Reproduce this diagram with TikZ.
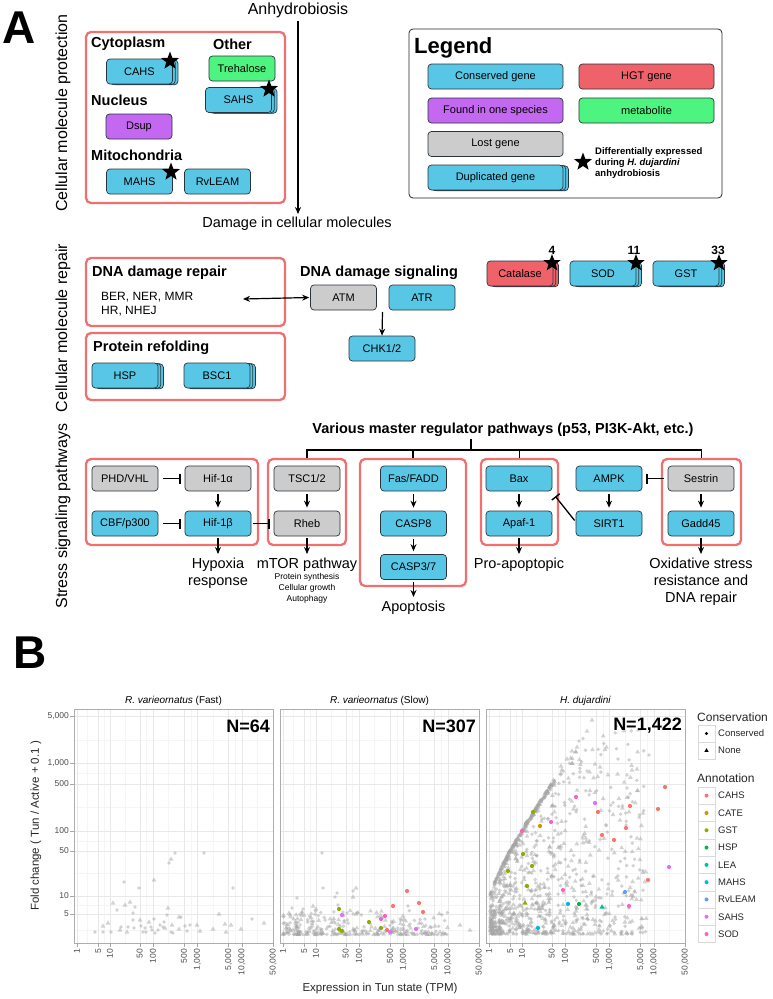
\documentclass[tikz,border=0pt]{standalone}
\usepackage{fontspec}
\setmainfont{Liberation Sans}
\usetikzlibrary{arrows.meta,shapes.geometric,fit,calc}
\definecolor{cblue}{RGB}{88,199,230}
\definecolor{cgray}{RGB}{204,204,204}
\definecolor{cpurp}{RGB}{196,104,242}
\definecolor{cgreen}{RGB}{78,244,128}
\definecolor{cred}{RGB}{240,98,106}
\definecolor{gred}{RGB}{240,112,112}
\definecolor{bline}{RGB}{40,52,62}
\definecolor{aCAHS}{HTML}{F8766D}
\definecolor{aCATE}{HTML}{D39200}
\definecolor{aGST}{HTML}{93AA00}
\definecolor{aHSP}{HTML}{00BA38}
\definecolor{aLEA}{HTML}{00C19F}
\definecolor{aMAHS}{HTML}{00B9E3}
\definecolor{aRvLEAM}{HTML}{619CFF}
\definecolor{aSAHS}{HTML}{DB72FB}
\definecolor{aSOD}{HTML}{FF61C3}
\definecolor{ptgray}{RGB}{165,165,165}
\newcommand\fs[2]{\fontsize{#1}{#2}\selectfont}
\newcommand\gC[2]{\fill (#1,#2) circle[radius=1.9pt];}
\newcommand\gT[2]{\fill (#1,#2) ++(0,-2.6) -- ++(2.4,4.1) -- ++(-4.8,0) -- cycle;}
\newcommand\cC[3]{\fill[#1] (#2,#3) circle[radius=2.1pt];}
\newcommand\cT[3]{\fill[#1] (#2,#3) ++(0,-2.8) -- ++(2.6,4.4) -- ++(-5.2,0) -- cycle;}
\newcommand\dupgene[5][]{%
  \node[gene,#4,#1] at ($(#3)+(5.4,0.8)$) {};
  \node[gene,#4,#1] at ($(#3)+(2.7,0.4)$) {};
  \node[gene,#4,#1] (#2) at (#3) {#5};}
\newcommand\plotpanel[2]{%
  \foreach \gx in {87.6,104.1,124.9,146.4,168.5,190.7,213.0,235.3,257.6}{\draw[gminor] (\gx+#1,709) -- (\gx+#1,943);}
  \foreach \gy in {930,905,873,841,807,773,740}{\draw[gminor] (74+#1,\gy) -- (273+#1,\gy);}
  \foreach \gx in {77.0,98.3,110.0,139.8,153.0,184.0,197.4,228.6,242.0}{\draw[gmajor] (\gx+#1,709) -- (\gx+#1,943);}
  \foreach \gy in {914,896,851,831,784,763,716}{\draw[gmajor] (74+#1,\gy) -- (273+#1,\gy);}
  \draw[pborder] (74+#1,709) rectangle (273+#1,943);
  \foreach \gx/\gl [count=\ci] in {77.0/1,98.3/5,110.0/10,139.8/50,153.0/100,184.0/500,197.4/{1,000},228.6/{5,000},242.0/{10,000},273.2/{50,000}}{%
    \draw[tickm] (\gx+#1,943) -- (\gx+#1,947);
    \node[tickl, rotate=90, anchor=east] (xt#2-\ci) at (\gx+#1,948.5) {\gl};}
}
\begin{document}
\begin{tikzpicture}[x=1pt,y=-1pt,
  gene/.style={draw=bline, line width=0.7pt, rounded corners=3.5pt, minimum width=66pt, minimum height=25pt, inner sep=0pt, font=\fs{11}{13}, text=black},
  cons/.style={fill=cblue}, lost/.style={fill=cgray}, purp/.style={fill=cpurp}, meta/.style={fill=cgreen}, hgt/.style={fill=cred},
  grp/.style={draw=gred, line width=2.3pt, rounded corners=5pt, inner sep=0pt},
  hdr/.style={font=\bfseries\fs{14.5}{17}, inner sep=0pt, anchor=west},
  sec/.style={font=\fs{16}{18}, inner sep=0pt, rotate=90},
  dstar/.style={star, star points=5, star point ratio=2.4, fill=black, draw=none, minimum size=19pt, inner sep=0pt},
  arr/.style={line width=1.2pt, -{Stealth[length=7pt,width=6pt]}},
  darr/.style={line width=1.2pt, {Stealth[length=7pt,width=6pt]}-{Stealth[length=7pt,width=6pt]}},
  inh/.style={line width=1.3pt, -{Bar[width=10pt,line width=1.4pt]}},
  brk/.style={line width=1.3pt},
  outl/.style={font=\fs{14.5}{17}, align=center, inner sep=1pt, anchor=north},
  gmajor/.style={draw=black!9, line width=0.5pt},
  gminor/.style={draw=black!4, line width=0.35pt},
  pborder/.style={draw=black!32, line width=0.7pt},
  tickm/.style={draw=black!35, line width=0.5pt},
  tickl/.style={font=\fs{8.5}{10}, text=black!70, inner sep=0.5pt},
  keyb/.style={draw=black!15, line width=0.5pt, fill=white},
  legl/.style={font=\fs{9.5}{11}, anchor=west, inner sep=0pt, text=black!85},
  nlab/.style={font=\bfseries\fs{18}{20}, anchor=east, inner sep=0pt}
]
\useasboundingbox (0,0) rectangle (772,999);

% ---------------- Panel A ----------------
\node[font=\bfseries\fs{46}{50}, inner sep=0pt] (lblA) at (19,28) {A};
\node[sec] (secP) at (63,113) {Cellular molecule protection};
\node[sec] (secR) at (63,328) {Cellular molecule repair};
\node[sec] (secS) at (63,516) {Stress signaling pathways};

% protection
\node[grp, fit={(86,32) (285,203)}] (gProt) {};
\node[hdr] (hCyt) at (91,44) {Cytoplasm};
\node[hdr] (hOth) at (213,44) {Other};
\node[hdr] (hNuc) at (91,100) {Nucleus};
\node[hdr] (hMit) at (91,155) {Mitochondria};
\dupgene{CAHS}{139.5,71.5}{cons}{CAHS}
\node[gene,meta] (Tre) at (242,68.5) {Trehalose};
\dupgene{SAHS}{238.5,100}{cons}{SAHS}
\node[gene,purp] (Dsup) at (139,126.5) {Dsup};
\node[gene,cons] (MAHS) at (139.5,181.5) {MAHS};
\node[gene,cons] (RvLEAM) at (217.5,181.5) {RvLEAM};
\node[dstar] (st1) at (170,61) {};
\node[dstar] (st2) at (269,89) {};
\node[dstar] (st3) at (171,172) {};

\node[font=\fs{16}{18}, inner sep=1pt] (anh) at (298,10) {Anhydrobiosis};
\node[font=\fs{14.5}{17}, inner sep=1pt] (dmg) at (297,224) {Damage in cellular molecules};
\draw[arr, shorten <=2pt, shorten >=2pt] (anh.south) -- (anh.south |- dmg.north);

% legend
\node[draw=black!85, line width=0.8pt, rounded corners=4pt, fit={(409,29) (722,198)}, inner sep=0pt] (leg) {};
\node[font=\bfseries\fs{22}{24}, anchor=west, inner sep=0pt] (legT) at (414,48) {Legend};
\node[gene,cons,minimum width=135pt] (lCons) at (495.5,76.5) {Conserved gene};
\node[gene,hgt,minimum width=135pt] (lHGT) at (646.5,76.5) {HGT gene};
\node[gene,purp,minimum width=135pt] (lOne) at (495.5,110.5) {Found in one species};
\node[gene,meta,minimum width=135pt] (lMet) at (646.5,110.5) {metabolite};
\node[gene,lost,minimum width=135pt] (lLost) at (495.5,144) {Lost gene};
\dupgene[minimum width=135pt]{lDup}{495.5,177.5}{cons}{Duplicated gene}
\node[dstar] (lStar) at (583,162) {};
\node[anchor=west, align=left, font=\bfseries\fs{9.5}{11}, inner sep=0pt] (lStarT) at (595,163) {Differentially expressed\\during \textit{H. dujardini}\\anhydrobiosis};

% repair
\node[grp, fit={(86,258) (285,326)}] (gRep) {};
\node[hdr] (hDNA) at (92,273) {DNA damage repair};
\node[anchor=west, align=left, font=\fs{12}{14}, inner sep=0pt] (rep) at (101,304) {BER, NER, MMR\\HR, NHEJ};
\coordinate (repR) at (243,299);
\node[font=\bfseries\fs{14.5}{17}, inner sep=0pt] (hSig) at (379,273) {DNA damage signaling};
\node[gene,lost] (ATM) at (343.5,297.5) {ATM};
\node[gene,cons] (ATR) at (422,297.5) {ATR};
\node[gene,cons] (CHK) at (382,348.5) {CHK1/2};
\draw[darr] (repR) -- ([xshift=-1pt]ATM.west);
\coordinate (sig) at (382.5,312);
\draw[arr] (sig) -- (CHK.north);

\dupgene{Cat}{520,273.5}{hgt}{Catalase}
\dupgene{SOD}{603,273.5}{cons}{SOD}
\dupgene{GST}{686,273.5}{cons}{GST}
\node[dstar, minimum size=18pt] (st4) at (552,263) {};
\node[dstar, minimum size=18pt] (st5) at (636,263) {};
\node[dstar, minimum size=18pt] (st6) at (719,263) {};
\node[font=\bfseries\fs{12}{14}, inner sep=0pt] (n4) at (552,250.5) {4};
\node[font=\bfseries\fs{12}{14}, inner sep=0pt] (n11) at (634,250.5) {11};
\node[font=\bfseries\fs{12}{14}, inner sep=0pt] (n33) at (718,250.5) {33};

\node[grp, fit={(86,333) (285,400)}] (gFold) {};
\node[hdr] (hFold) at (93,348) {Protein refolding};
\dupgene{HSP}{125,375.5}{cons}{HSP}
\dupgene{BSC}{217,375.5}{cons}{BSC1}

% stress signaling
\node[font=\bfseries\fs{14.5}{17}, inner sep=0pt] (master) at (503,430) {Various master regulator pathways (p53, PI3K-Akt, etc.)};
\node[grp, fit={(86,459) (258,545)}] (gHyp) {};
\node[grp, fit={(268,459) (346,545)}] (gMTOR) {};
\node[grp, fit={(360,459) (466,586)}] (gApo) {};
\node[grp, fit={(481,459) (558,545)}] (gPro) {};
\node[grp, fit={(662,459) (741,545)}] (gSes) {};

\node[gene,lost] (PHD) at (125,478.5) {PHD/VHL};
\node[gene,lost] (Hif1a) at (218,478.5) {Hif-1α};
\node[gene,lost] (TSC) at (307,478.5) {TSC1/2};
\node[gene,cons] (Fas) at (413.5,478.5) {Fas/FADD};
\node[gene,cons] (Bax) at (519,478.5) {Bax};
\node[gene,cons] (AMPK) at (609,478.5) {AMPK};
\node[gene,lost] (Ses) at (701,478.5) {Sestrin};
\node[gene,cons] (CBF) at (125,523.5) {CBF/p300};
\node[gene,cons] (Hif1b) at (218,523.5) {Hif-1β};
\node[gene,lost] (Rheb) at (307,523.5) {Rheb};
\node[gene,cons] (CASP8) at (413.5,523.5) {CASP8};
\node[gene,cons] (Apaf) at (519,523.5) {Apaf-1};
\node[gene,cons] (SIRT) at (609,523.5) {SIRT1};
\node[gene,cons] (Gadd) at (701,523.5) {Gadd45};
\node[gene,cons] (CASP3) at (413.5,567) {CASP3/7};

\coordinate (bl) at (0,450);
\coordinate (stem) at (471,439);
\draw[brk] (gMTOR.north) -- (gMTOR.north |- bl) -- (gSes.north |- bl) -- (gSes.north);
\draw[brk] (gApo.north) -- (gApo.north |- bl);
\draw[brk] (gPro.north) -- (gPro.north |- bl);
\draw[brk] (stem) -- (stem |- bl);

\draw[inh, shorten <=5pt, shorten >=4pt] (PHD.east) -- (Hif1a.west);
\draw[inh, shorten <=5pt, shorten >=4pt] (CBF.east) -- (Hif1b.west);
\draw[inh, shorten <=2pt, shorten >=4pt] (Hif1b.east) -- (Rheb.west);
\draw[inh, shorten <=4pt, shorten >=4pt] (Ses.west) -- (AMPK.east);
\draw[inh] ($(SIRT.west)+(-1,-3)$) -- ($(Bax.south east)+(3,5)$);

\foreach \a/\b in {Hif1a/Hif1b, TSC/Rheb, Fas/CASP8, CASP8/CASP3, Bax/Apaf, AMPK/SIRT, Ses/Gadd}{
  \draw[arr, shorten <=3pt, shorten >=3pt] (\a.south) -- (\b.north);}

\node[outl] (oHyp) at (218,557) {Hypoxia\\response};
\node[outl] (oMTOR) at (307,557) {mTOR pathway};
\node[font=\fs{8.5}{11}, align=center, inner sep=0pt, anchor=north] (oMTORs) at (307,573.5) {Protein synthesis\\Cellular growth\\Autophagy};
\node[outl] (oApo) at (413.5,600) {Apoptosis};
\node[outl] (oPro) at (519,557) {Pro-apoptopic};
\node[outl] (oOx) at (701,557) {Oxidative stress\\resistance and\\DNA repair};
\draw[arr, shorten <=2pt, shorten >=3pt] (Hif1b.south) -- (oHyp.north);
\draw[arr, shorten <=2pt, shorten >=3pt] (Rheb.south) -- (oMTOR.north);
\draw[arr, shorten <=2pt, shorten >=3pt] (CASP3.south) -- (oApo.north);
\draw[arr, shorten <=2pt, shorten >=3pt] (Apaf.south) -- (oPro.north);
\draw[arr, shorten <=2pt, shorten >=3pt] (Gadd.south) -- (oOx.north);

% ---------------- Panel B ----------------
\node[font=\bfseries\fs{46}{50}, inner sep=0pt] (lblB) at (30,653) {B};
\plotpanel{0}{a}
\plotpanel{206}{b}
\plotpanel{412}{c}
\foreach \gy/\gl [count=\ci] in {914/5,896/10,851/50,831/100,784/500,763/{1,000},716/{5,000}}{
  \draw[tickm] (70,\gy) -- (74,\gy);
  \node[tickl, anchor=east] (yt\ci) at (69.5,\gy) {\gl};}
\node[font=\fs{10}{12}, inner sep=0pt] (strip1) at (173.5,701) {\textit{R. varieornatus} (Fast)};
\node[font=\fs{10}{12}, inner sep=0pt] (strip2) at (379.5,701) {\textit{R. varieornatus} (Slow)};
\node[font=\fs{10}{12}, inner sep=0pt] (strip3) at (585.5,701) {\textit{H. dujardini}};
\node[font=\fs{11.5}{13}, text=black!85, inner sep=0pt] (xtitle) at (380,989) {Expression in Tun state (TPM)};
\node[font=\fs{11.5}{13}, text=black!85, inner sep=0pt, rotate=90] (ytitle) at (36,826) {Fold change ( Tun / Active + 0.1 )};

\begin{scope}[fill=ptgray, fill opacity=0.5]
% panel 1
\foreach \x/\y in {95/932,103/932,111/932,117/910,121/927,124/882,128/927,133/913,133/920,134/928,135/907,139/888,141/926,143/932,145/928,146/932,151/927,152/930,154/919,155/933,163/927,164/922,167/915,169/863,171/932,173/933,175/853,181/917,187/931,190/925,204/853,233/888,252/919,158/930,160/925,185/926}{\gC{\x}{\y}}
\foreach \x/\y in {103/926,108/923,113/903,125/905,127/932,130/902,140/920,149/922,154/880,165/928,168/908,171/859,179/917,179/929,197/925,213/929,219/914,225/924,226/932,231/925,241/929,264/923,120/930,172/925,200/931}{\gT{\x}{\y}}
% panel 2
\foreach \x/\y in {292/908,297/898,303/909,322/853,323/888,335/897,337/893,338/905,353/891,343/912,347/913,408/906,425/919,418/928,410/924,400/919}{\gC{\x}{\y}}
\foreach \x/\y in {289/913,313/906,316/909,356/888,353/897,356/914,403/916,430/927,435/926,440/932,443/933,460/925,470/930}{\gT{\x}{\y}}
\pgfmathsetseed{7}
\foreach \i in {1,...,270}{%
  \pgfmathsetmacro\X{283+165*pow(rnd*0.998+0.001,1.25)}%
  \pgfmathsetmacro\Y{934.5-24*pow(rnd*0.998+0.001,2.3)}%
  \pgfmathtruncatemacro\sh{rnd<0.5}%
  \ifnum\sh=1 \gC{\X}{\Y}\else\gT{\X}{\Y}\fi}
% panel 3
\foreach \i in {1,...,850}{%
  \pgfmathsetmacro\ra{0.33+3.5*pow(rnd*0.998+0.001,1.5)}%
  \pgfmathsetmacro\lv{log10(pow(10,\ra)-1)}%
  \pgfmathsetmacro\bmax{min(1.0+\lv,3.62)}%
  \pgfmathsetmacro\bb{0.43+(\bmax-0.43)*pow(rnd*0.998+0.001,1.75)}%
  \pgfmathsetmacro\X{475.6+44.6*\ra}%
  \pgfmathsetmacro\Y{962.7-66.7*\bb}%
  \pgfmathtruncatemacro\sh{rnd<0.5}%
  \ifnum\sh=1 \gC{\X}{\Y}\else\gT{\X}{\Y}\fi}
\foreach \i in {1,...,220}{%
  \pgfmathsetmacro\ra{0.42+1.35*rnd}%
  \pgfmathsetmacro\lv{log10(pow(10,\ra)-1)}%
  \pgfmathsetmacro\bb{1.0+\lv-0.06*rnd}%
  \pgfmathsetmacro\X{475.6+44.6*\ra}%
  \pgfmathsetmacro\Y{962.7-66.7*\bb}%
  \pgfmathtruncatemacro\sh{rnd<0.5}%
  \ifnum\sh=1 \gC{\X}{\Y}\else\gT{\X}{\Y}\fi}
\foreach \x/\y in {579/741,618/759,649/755,627/775,587/771}{\gC{\x}{\y}}
\foreach \x/\y in {592/720,572/751,567/759,561/766,600/767,632/770,637/769}{\gT{\x}{\y}}
\end{scope}

% coloured points
\foreach \x/\y in {339/909,339/929,342/931,369/922,381/928,533/812,523/854,532/866,508/871,527/886}{\cC{aGST}{\x}{\y}}
\cT{aGST}{525}{903}
\foreach \x/\y in {342/915,416/929,390/932,595/803,669/867}{\cC{aSAHS}{\x}{\y}}
\foreach \x/\y in {381/919,385/916,576/797,551/822,522/831,563/890,629/906}{\cC{aSOD}{\x}{\y}}
\foreach \x/\y in {387/930,407/891,393/906,419/903,423/912,665/787,630/806,598/812,658/809,626/828,602/835,614/840,648/880}{\cC{aCAHS}{\x}{\y}}
\cC{aCATE}{540}{826}
\cC{aMAHS}{568}{904}
\cC{aMAHS}{538}{928}
\cC{aHSP}{579}{904}
\cT{aLEA}{602}{907}
\cC{aRvLEAM}{625}{892}

\node[nlab] (N1) at (270,726) {N=64};
\node[nlab] (N2) at (476,726) {N=307};
\node[nlab] (N3) at (682,726) {N=1,422};

% legend B
\node[font=\fs{12}{14}, anchor=west, inner sep=0pt, text=black!85] (conT) at (697,717) {Conservation};
\draw[keyb] (698,725) rectangle (715,742);
\draw[keyb] (698,742) rectangle (715,759);
\fill[black] (706.5,733.5) circle[radius=1.6pt];
\fill[black] (706.5,750.5) ++(0,-2.3) -- ++(2.1,3.6) -- ++(-4.2,0) -- cycle;
\node[legl] (conC) at (718,733.5) {Conserved};
\node[legl] (conN) at (718,750.5) {None};
\node[font=\fs{12}{14}, anchor=west, inner sep=0pt, text=black!85] (annT) at (697,778) {Annotation};
\foreach \nm [count=\k] in {CAHS,CATE,GST,HSP,LEA,MAHS,RvLEAM,SAHS,SOD}{
  \pgfmathsetmacro\yy{787+17.3*(\k-1)}
  \draw[keyb] (698,\yy) rectangle (715,\yy+17.3);
  \fill[a\nm] (706.5,\yy+8.65) circle[radius=2pt];
  \node[legl] (ann\k) at (718,\yy+8.65) {\nm};}
\end{tikzpicture}
\end{document}
